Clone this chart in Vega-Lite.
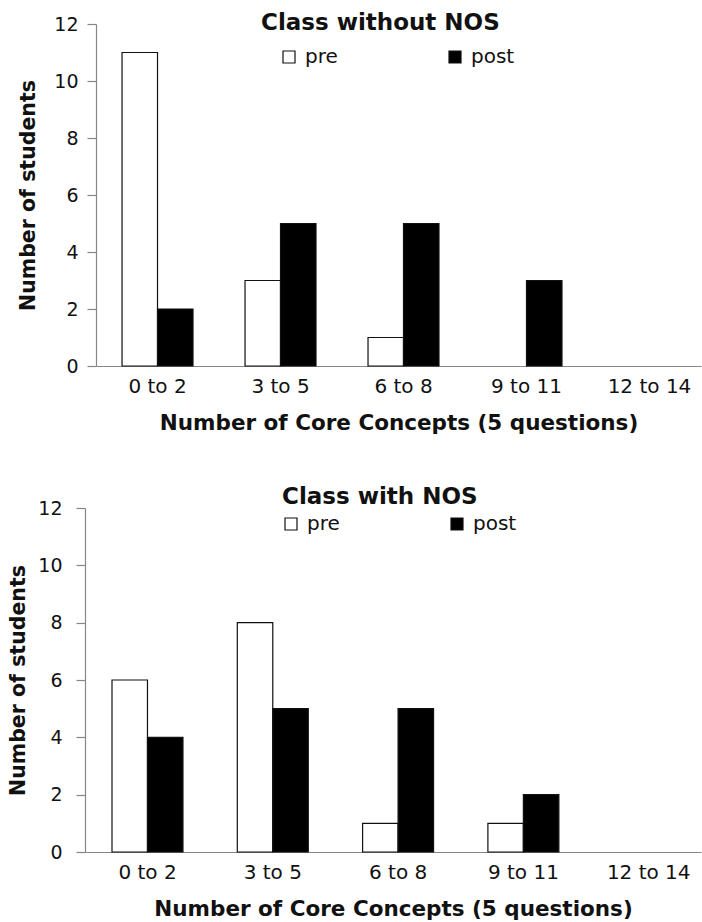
{
  "$schema": "https://vega.github.io/schema/vega-lite/v6.json",
  "background": "white",
  "padding": {"left": 8, "top": 12, "right": 0, "bottom": 0},
  "spacing": 52,
  "config": {
    "font": "DejaVu Sans",
    "view": {"stroke": null},
    "axis": {"domainColor": "#868686", "tickColor": "#868686", "domainWidth": 1.2, "tickWidth": 1.2, "labelColor": "#111111", "titleColor": "#111111", "labelFont": "DejaVu Sans", "titleFont": "DejaVu Sans", "grid": false},
    "title": {"font": "DejaVu Sans", "fontSize": 23, "fontWeight": "bold", "color": "#111111", "frame": "group", "anchor": "start"},
    "legend": {"labelFont": "DejaVu Sans", "labelFontSize": 20, "labelColor": "#111111", "symbolType": "square", "symbolSize": 144, "symbolStrokeColor": "#111111", "symbolStrokeWidth": 1.2, "padding": 0, "labelOffset": 6}
  },
  "data": {"values": [
    {"panel": "without", "range": "0 to 2", "phase": "pre", "count": 11},
    {"panel": "without", "range": "3 to 5", "phase": "pre", "count": 3},
    {"panel": "without", "range": "6 to 8", "phase": "pre", "count": 1},
    {"panel": "without", "range": "9 to 11", "phase": "pre", "count": 0},
    {"panel": "without", "range": "12 to 14", "phase": "pre", "count": 0},
    {"panel": "without", "range": "0 to 2", "phase": "post", "count": 2},
    {"panel": "without", "range": "3 to 5", "phase": "post", "count": 5},
    {"panel": "without", "range": "6 to 8", "phase": "post", "count": 5},
    {"panel": "without", "range": "9 to 11", "phase": "post", "count": 3},
    {"panel": "without", "range": "12 to 14", "phase": "post", "count": 0},
    {"panel": "with", "range": "0 to 2", "phase": "pre", "count": 6},
    {"panel": "with", "range": "3 to 5", "phase": "pre", "count": 8},
    {"panel": "with", "range": "6 to 8", "phase": "pre", "count": 1},
    {"panel": "with", "range": "9 to 11", "phase": "pre", "count": 1},
    {"panel": "with", "range": "12 to 14", "phase": "pre", "count": 0},
    {"panel": "with", "range": "0 to 2", "phase": "post", "count": 4},
    {"panel": "with", "range": "3 to 5", "phase": "post", "count": 5},
    {"panel": "with", "range": "6 to 8", "phase": "post", "count": 5},
    {"panel": "with", "range": "9 to 11", "phase": "post", "count": 2},
    {"panel": "with", "range": "12 to 14", "phase": "post", "count": 0}
  ]},
  "vconcat": [
    {
      "title": {"text": "Class without NOS", "offset": -20, "dx": 165},
      "transform": [{"filter": "datum.panel === 'without' && datum.count > 0"}],
      "width": 605,
      "height": 342,
      "mark": {"type": "bar", "stroke": "#111111", "strokeWidth": 1.2},
      "encoding": {
        "x": {"field": "range", "type": "nominal", "sort": null,
          "scale": {"domain": ["0 to 2", "3 to 5", "6 to 8", "9 to 11", "12 to 14"], "range": [0, 605], "paddingInner": 0.423, "paddingOuter": 0.171, "align": 0.619},
          "axis": {"labelAngle": 0, "ticks": false, "labelFontSize": 20, "labelPadding": 10, "titleFontSize": 21.5, "titleFontWeight": "bold", "titlePadding": 16},
          "title": "Number of Core Concepts (5 questions)"},
        "xOffset": {"field": "phase", "type": "nominal", "scale": {"domain": ["pre", "post"], "paddingInner": 0, "paddingOuter": 0}},
        "y": {"field": "count", "type": "quantitative",
          "scale": {"domain": [0, 12], "nice": false},
          "axis": {"values": [0, 2, 4, 6, 8, 10, 12], "tickSize": 9, "labelFontSize": 19, "labelPadding": 9, "titleFontSize": 20.5, "titleFontWeight": "bold", "titlePadding": 15},
          "title": "Number of students"},
        "fill": {"field": "phase", "type": "nominal",
          "scale": {"domain": ["pre", "post"], "range": ["white", "black"]},
          "legend": {"title": null, "orient": "none", "direction": "horizontal", "legendX": 183, "legendY": 23, "columnPadding": 107}}
      }
    },
    {
      "title": {"text": "Class with NOS", "offset": -10, "dx": 186},
      "transform": [{"filter": "datum.panel === 'with' && datum.count > 0"}],
      "width": 605,
      "height": 344,
      "mark": {"type": "bar", "stroke": "#111111", "strokeWidth": 1.2},
      "encoding": {
        "x": {"field": "range", "type": "nominal", "sort": null,
          "scale": {"domain": ["0 to 2", "3 to 5", "6 to 8", "9 to 11", "12 to 14"], "range": [-11, 605], "paddingInner": 0.433, "paddingOuter": 0.1746, "align": 0.617},
          "axis": {"labelAngle": 0, "ticks": false, "labelFontSize": 20, "labelPadding": 10, "titleFontSize": 21.5, "titleFontWeight": "bold", "titlePadding": 16},
          "title": "Number of Core Concepts (5 questions)"},
        "xOffset": {"field": "phase", "type": "nominal", "scale": {"domain": ["pre", "post"], "paddingInner": 0, "paddingOuter": 0}},
        "y": {"field": "count", "type": "quantitative",
          "scale": {"domain": [0, 12], "nice": false},
          "axis": {"values": [0, 2, 4, 6, 8, 10, 12], "offset": 11, "tickSize": 9, "labelFontSize": 19, "labelPadding": 14, "titleFontSize": 20.5, "titleFontWeight": "bold", "titlePadding": 9},
          "title": "Number of students"},
        "fill": {"field": "phase", "type": "nominal",
          "scale": {"domain": ["pre", "post"], "range": ["white", "black"]},
          "legend": {"title": null, "orient": "none", "direction": "horizontal", "legendX": 185, "legendY": 6, "columnPadding": 107}}
      }
    }
  ],
  "resolve": {"legend": {"fill": "independent"}}
}
